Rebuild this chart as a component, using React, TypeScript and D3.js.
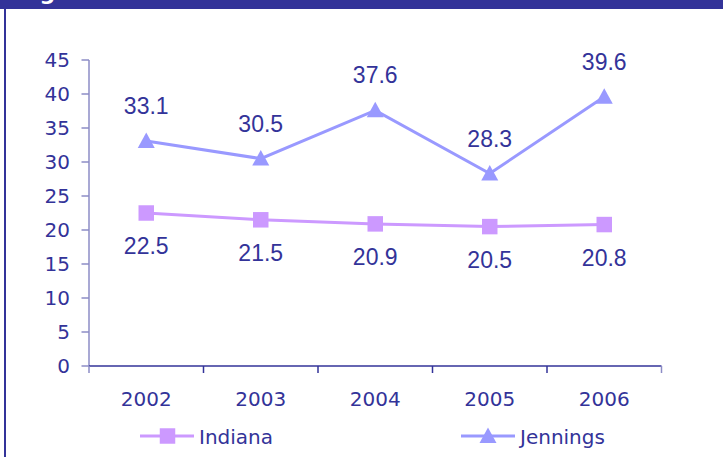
import * as d3 from "d3";

// chart data
const years = ["2002", "2003", "2004", "2005", "2006"];
const indiana = [22.5, 21.5, 20.9, 20.5, 20.8];
const jennings = [33.1, 30.5, 37.6, 28.3, 39.6];
const yTicks = [0, 5, 10, 15, 20, 25, 30, 35, 40, 45];
const seriesNames = ["Indiana", "Jennings"];

const W = 723;
const H = 457;
const navy = "#333399";
const indianaColor = "#cc99ff";
const jenningsColor = "#9999ff";
const tickFont = "'DejaVu Sans', Verdana, sans-serif";
const labelFont = "'Liberation Sans', Arial, sans-serif";

export default function App() {
  const x = d3.scaleBand<string>().domain(years).range([89, 661.5]);
  const y = d3.scaleLinear().domain([0, 45]).range([366, 60]);
  const cx = (i: number) => (x(years[i]) ?? 0) + x.bandwidth() / 2;
  const line = d3.line<number>((d, i) => cx(i), (d) => y(d));

  const square = d3.symbol(d3.symbolSquare, 240)();
  const tri = "M0,-8.5L8.5,7L-8.5,7Z";

  return (
    <svg width={W} height={H} style={{ position: "absolute", left: 0, top: 0 }}>
      <rect width={W} height={H} fill="white" />
      {/* title banner, cut off at the top */}
      <rect x={0} y={0} width={W} height={9} fill={navy} />
      <text x={17} y={0} fill="white" fontFamily={tickFont} fontWeight="bold" fontSize={22}>
        Figure 3: Rates 2002 - 2006
      </text>
      <rect x={4} y={9} width={2} height={H - 9} fill={navy} />

      {/* y axis */}
      <line x1={89} x2={89} y1={y(45)} y2={y(0)} stroke="#8c8cc6" strokeWidth={1.5} />
      {yTicks.map((t) => (
        <g key={t}>
          <line x1={81.5} x2={89} y1={y(t)} y2={y(t)} stroke="#8c8cc6" strokeWidth={1.5} />
          <text x={70} y={y(t)} dy="0.36em" textAnchor="end" fill={navy} fontFamily={tickFont} fontSize={20}>
            {t}
          </text>
        </g>
      ))}

      {/* x axis */}
      <line x1={89} x2={661.5} y1={y(0)} y2={y(0)} stroke={navy} strokeWidth={1.5} />
      {[...years.map((yr) => x(yr) ?? 0), 661.5].map((px, i) => (
        <line key={i} x1={px} x2={px} y1={y(0)} y2={y(0) + 7} stroke={i === 0 || i === 5 ? "#8c8cc6" : navy} strokeWidth={1.5} />
      ))}
      {years.map((yr, i) => (
        <text key={yr} x={cx(i)} y={406} textAnchor="middle" fill={navy} fontFamily={tickFont} fontSize={20}>
          {yr}
        </text>
      ))}

      {/* Indiana */}
      <path d={line(indiana) ?? ""} fill="none" stroke={indianaColor} strokeWidth={3} />
      {indiana.map((v, i) => (
        <g key={i}>
          <path d={square} transform={`translate(${cx(i)},${y(v)})`} fill={indianaColor} />
          <text x={cx(i)} y={y(v) + 41} textAnchor="middle" fill={navy} fontFamily={labelFont} fontSize={23}>
            {v.toFixed(1)}
          </text>
        </g>
      ))}

      {/* Jennings */}
      <path d={line(jennings) ?? ""} fill="none" stroke={jenningsColor} strokeWidth={3} />
      {jennings.map((v, i) => (
        <g key={i}>
          <path d={tri} transform={`translate(${cx(i)},${y(v)})`} fill={jenningsColor} />
          <text x={cx(i)} y={y(v) - 27} textAnchor="middle" fill={navy} fontFamily={labelFont} fontSize={23}>
            {v.toFixed(1)}
          </text>
        </g>
      ))}

      {/* legend */}
      <g>
        <line x1={140} x2={194} y1={436} y2={436} stroke={indianaColor} strokeWidth={3} />
        <path d={square} transform="translate(167.5,436)" fill={indianaColor} />
        <text x={199} y={443.5} fill={navy} fontFamily={tickFont} fontSize={20}>{seriesNames[0]}</text>
        <line x1={461} x2={515} y1={436} y2={436} stroke={jenningsColor} strokeWidth={3} />
        <path d={tri} transform="translate(488,436)" fill={jenningsColor} />
        <text x={520} y={443.5} fill={navy} fontFamily={tickFont} fontSize={20}>{seriesNames[1]}</text>
      </g>
    </svg>
  );
}
